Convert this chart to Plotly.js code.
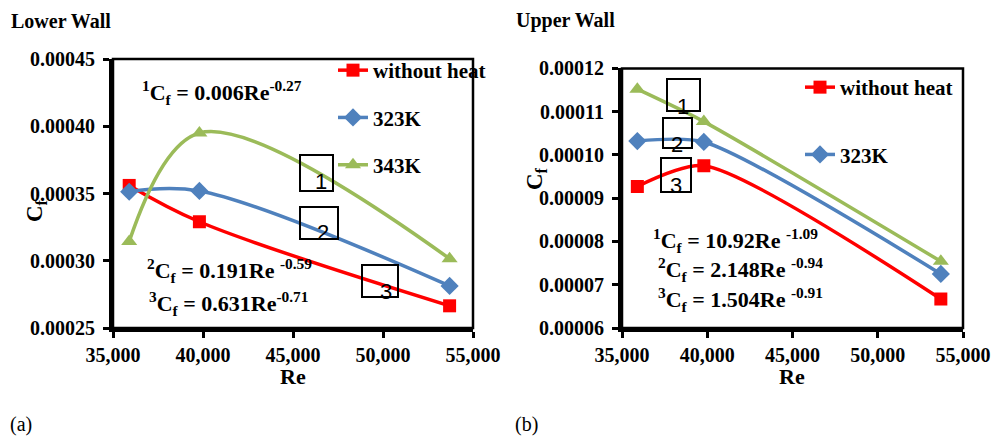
<!DOCTYPE html>
<html>
<head>
<meta charset="utf-8">
<script src="https://cdn.plot.ly/plotly-3.0.1.min.js"></script>
<style>
html,body{margin:0;padding:0;background:#fff;}
#chart{width:998px;height:437px;}
</style>
</head>
<body>
<div id="chart"></div>
<script>
// ---- data ----
const reynolds = [35900, 39800, 53700];
const seriesNames = ['without heat', '323K', '343K'];
const lowerWithoutHeat = [0.000356, 0.000329, 0.0002665];
const lower323K = [0.0003513, 0.0003519, 0.0002813];
const lower343K = [0.0003143, 0.000395, 0.0003015];
const upperWithoutHeat = [0.0000927, 0.0000975, 0.0000667];
const upper323K = [0.0001032, 0.000103, 0.0000725];
const upper343K = [0.0001152, 0.0001077, 0.0000754];
const xTickVals = [35000, 40000, 45000, 50000, 55000];
const lowerYTicks = [0.00025, 0.00030, 0.00035, 0.00040, 0.00045];
const upperYTicks = [0.00006, 0.00007, 0.00008, 0.00009, 0.00010, 0.00011, 0.00012];
const lowerEquations = ['<sup>1</sup>C<sub>f</sub> = 0.006Re<sup>-0.27</sup>',
                        '<sup>2</sup>C<sub>f</sub> = 0.191Re <sup>-0.59</sup>',
                        '<sup>3</sup>C<sub>f</sub> = 0.631Re<sup>-0.71</sup>'];
const upperEquations = ['<sup>1</sup>C<sub>f</sub> = 10.92Re <sup>-1.09</sup>',
                        '<sup>2</sup>C<sub>f</sub> = 2.148Re <sup>-0.94</sup>',
                        '<sup>3</sup>C<sub>f</sub> = 1.504Re <sup>-0.91</sup>'];
const boxLabels = ['1', '2', '3'];

// ---- styling ----
const W = 998, H = 437;
const px = v => v / W;
const py = v => 1 - v / H;
const SERIF = 'Times New Roman, Liberation Serif, Tinos, DejaVu Serif, serif';
const SANS = 'Liberation Sans, Arial, sans-serif';
const colors = ['#FF0000', '#4F81BD', '#9BBB59'];
const symbols = ['square', 'diamond', 'triangle-up'];
const msizes = [13, 14, 14];

function mk(xa, ya, y, i, legendName, show, smooth) {
  return {
    x: reynolds, y: y, xaxis: xa, yaxis: ya,
    name: seriesNames[i], legend: legendName, legendgroup: legendName + i,
    showlegend: show, type: 'scatter', mode: 'lines+markers',
    line: {color: colors[i], width: 3.5, shape: 'spline', smoothing: smooth},
    marker: {color: colors[i], symbol: symbols[i], size: msizes[i]}
  };
}

const data = [
  mk('x', 'y', lowerWithoutHeat, 0, 'legend', true, 1),
  mk('x', 'y', lower323K, 1, 'legend', true, 1),
  mk('x', 'y', lower343K, 2, 'legend', true, 1),
  mk('x2', 'y2', upperWithoutHeat, 0, 'legend2', true, 0.7),
  mk('x2', 'y2', upper323K, 1, 'legend2', true, 0.7),
  mk('x2', 'y2', upper343K, 2, 'legend2', false, 0.7)
];

const tickFont = {family: SERIF, size: 20, color: '#000', weight: 'bold'};
function xax(domain, anchor) {
  return {
    domain: domain, anchor: anchor, range: [35000, 55000],
    tickvals: xTickVals, tickformat: ',d',
    showgrid: false, zeroline: false,
    showline: true, linecolor: '#000', linewidth: 4,
    ticks: 'outside', ticklen: 6, tickwidth: 3, tickcolor: '#000',
    tickfont: tickFont, automargin: false, fixedrange: true
  };
}
function yax(domain, anchor, range, ticks) {
  return {
    domain: domain, anchor: anchor, range: range,
    tickvals: ticks, tickformat: '.5f',
    showgrid: false, zeroline: false,
    showline: true, linecolor: '#000', linewidth: 4,
    ticks: 'outside', ticklen: 6, tickwidth: 3, tickcolor: '#000',
    ticklabelstandoff: 4,
    tickfont: tickFont, automargin: false, fixedrange: true
  };
}

const annotations = [];
function txt(x, y, text, size, opts) {
  annotations.push(Object.assign({
    xref: 'paper', yref: 'paper', x: px(x), y: py(y), text: text,
    showarrow: false, xanchor: 'left', yanchor: 'middle',
    font: {family: SERIF, size: size, color: '#000'}
  }, opts || {}));
}
// panel titles
txt(9, 21, '<b>Lower Wall</b>', 20);
txt(514, 21, '<b>Upper Wall</b>', 20);
txt(8, 424, '(a)', 20);
txt(513, 424, '(b)', 20);
// axis titles
txt(293, 376, '<b>Re</b>', 22, {xanchor: 'center'});
txt(792, 376, '<b>Re</b>', 22, {xanchor: 'center'});
txt(36, 211, '<b>C<sub>f</sub></b>', 23, {xanchor: 'center', textangle: -90});
txt(536, 179, '<b>C<sub>f</sub></b>', 23, {xanchor: 'center', textangle: -90});
// equations
const lowerEqPos = [[140, 92], [145, 270], [147, 303]];
const upperEqPos = [[651, 240], [656, 269], [656, 299]];
lowerEquations.forEach((t, i) => txt(lowerEqPos[i][0], lowerEqPos[i][1], '<b>' + t + '</b>', 22));
upperEquations.forEach((t, i) => txt(upperEqPos[i][0], upperEqPos[i][1], '<b>' + t + '</b>', 22));

// numbered boxes
const lowerBoxes = [[300, 155, 333, 191], [300, 207, 338, 239], [362, 265, 398, 297]];
const lowerNums = [[321, 181], [323, 233], [386, 291]];
const upperBoxes = [[667, 79, 700, 111], [663, 118, 692, 148], [661, 158, 691, 192]];
const upperNums = [[683, 106], [677, 145], [676, 186]];
const shapes = [];
function boxes(bx, nums) {
  bx.forEach((b, i) => {
    shapes.push({type: 'rect', xref: 'paper', yref: 'paper',
      x0: px(b[0]), x1: px(b[2]), y0: py(b[3]), y1: py(b[1]),
      line: {color: '#000', width: 2}, fillcolor: 'rgba(0,0,0,0)'});
    txt(nums[i][0], nums[i][1], boxLabels[i], 22,
      {xanchor: 'center', font: {family: SANS, size: 22, color: '#000'}});
  });
}
boxes(lowerBoxes, lowerNums);
boxes(upperBoxes, upperNums);
// plot frames (top/right borders)
['x', 'x2'].forEach((xa, k) => {
  const ya = k === 0 ? 'y' : 'y2';
  shapes.push({type: 'rect', xref: xa + ' domain', yref: ya + ' domain',
    x0: 0, x1: 1, y0: 0, y1: 1, line: {color: '#000', width: 2.5}, layer: 'above'});
});

const legendFont = {family: SERIF, size: 21, color: '#000', weight: 'bold'};
const layout = {
  width: W, height: H,
  margin: {l: 0, r: 0, t: 0, b: 0},
  paper_bgcolor: '#fff', plot_bgcolor: '#fff',
  xaxis: xax([px(113), px(473)], 'y'),
  yaxis: yax([py(328), py(59)], 'x', [0.00025, 0.00045], lowerYTicks),
  xaxis2: xax([px(622), px(963)], 'y2'),
  yaxis2: yax([py(328), py(68.4)], 'x2', [0.00006, 0.00012], upperYTicks),
  legend: {x: px(333), y: py(50), xanchor: 'left', yanchor: 'top',
    bgcolor: 'rgba(0,0,0,0)', font: legendFont, tracegroupgap: 17, traceorder: 'grouped'},
  legend2: {x: px(800), y: py(67), xanchor: 'left', yanchor: 'top',
    bgcolor: 'rgba(0,0,0,0)', font: legendFont, tracegroupgap: 37, traceorder: 'grouped'},
  annotations: annotations,
  shapes: shapes,
  showlegend: true
};

Plotly.newPlot('chart', data, layout, {displayModeBar: false, staticPlot: true});
</script>
</body>
</html>
